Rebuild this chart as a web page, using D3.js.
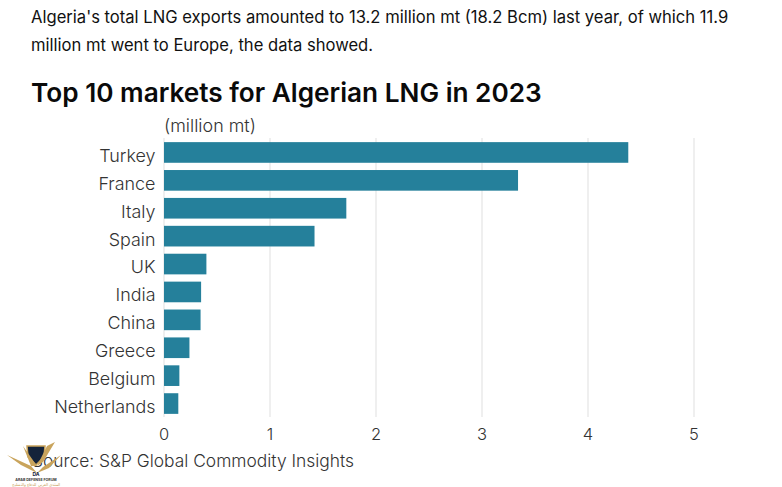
<!DOCTYPE html>
<html>
<head>
<meta charset="utf-8">
<script src="https://cdnjs.cloudflare.com/ajax/libs/d3/7.8.5/d3.min.js"></script>
<style>
  html, body { margin: 0; padding: 0; background: #fff; }
  svg { display: block; font-family: Inter, "Open Sans", sans-serif; }
</style>
</head>
<body>
<div id="chart"></div>
<script>
var markets = ['Turkey', 'France', 'Italy', 'Spain', 'UK', 'India', 'China', 'Greece', 'Belgium', 'Netherlands'];
var volumes = [4.38, 3.34, 1.72, 1.42, 0.40, 0.35, 0.345, 0.24, 0.145, 0.135];
var xTicks = [0, 1, 2, 3, 4, 5];
var introLines = [
  "Algeria's total LNG exports amounted to 13.2 million mt (18.2 Bcm) last year, of which 11.9",
  'million mt went to Europe, the data showed.'
];

var svg = d3.select('#chart').append('svg').attr('width', 782).attr('height', 487);

var x = d3.scaleLinear().domain([0, 5]).range([164, 694]);
var y = d3.scaleBand().domain(markets).range([138.5, 417.5]).paddingInner(0.26).paddingOuter(0.13);

// intro text
svg.selectAll('.intro').data(introLines).enter().append('text')
  .attr('class', 'intro')
  .attr('x', 31).attr('y', function (d, i) { return 23 + i * 28; })
  .attr('font-size', 16.6).attr('fill', '#111')
  .text(function (d) { return d; });

svg.append('text').attr('x', 31).attr('y', 102)
  .attr('font-size', 26.2).attr('font-weight', 600).attr('fill', '#0a0a0a')
  .text('Top 10 markets for Algerian LNG in 2023');

svg.append('text').attr('x', 164).attr('y', 131.5)
  .attr('font-size', 17.9).attr('font-weight', 300).attr('fill', '#333')
  .text('(million mt)');

// gridlines
svg.selectAll('.grid').data(xTicks).enter().append('line')
  .attr('class', 'grid')
  .attr('x1', x).attr('x2', x)
  .attr('y1', 138).attr('y2', 417)
  .attr('stroke', '#e6e6e6').attr('stroke-width', 1.3);

// bars
svg.selectAll('.bar').data(volumes).enter().append('rect')
  .attr('class', 'bar')
  .attr('x', x(0))
  .attr('y', function (d, i) { return y(markets[i]); })
  .attr('width', function (d) { return x(d) - x(0); })
  .attr('height', y.bandwidth())
  .attr('fill', '#25809b');

// labels
svg.selectAll('.market').data(markets).enter().append('text')
  .attr('class', 'market')
  .attr('x', 155.5)
  .attr('y', function (d) { return y(d) + y.bandwidth() / 2 + 3; })
  .attr('dy', '0.36em')
  .attr('text-anchor', 'end')
  .attr('font-size', 17.9).attr('font-weight', 300).attr('fill', '#333')
  .text(function (d) { return d; });

svg.selectAll('.tick-label').data(xTicks).enter().append('text')
  .attr('class', 'tick-label')
  .attr('x', x).attr('y', 440)
  .attr('text-anchor', 'middle')
  .attr('font-size', 16.5).attr('font-weight', 300).attr('fill', '#333')
  .text(function (d) { return d; });

svg.append('text').attr('x', 32).attr('y', 467)
  .attr('font-size', 17.4).attr('font-weight', 300).attr('fill', '#333')
  .text('Source: S&P Global Commodity Insights');

// forum watermark, rough
var logo = svg.append('g').attr('transform', 'translate(7,442)');
logo.append('path').attr('d', 'M20 4 L38 4 L37 15 L29 23 L21 15 Z').attr('fill', '#14233a').attr('stroke', '#c9a45c').attr('stroke-width', 1.5);
logo.append('path').attr('d', 'M40 4 L48 0 L36 20 L30 24 Z M16 4 L30 24 L24 24 Z').attr('fill', '#c9a45c');
logo.append('path').attr('d', 'M0 13 L24 24 L30 31 L14 23 Z M54 13 L36 25 L30 31 L42 26 Z').attr('fill', '#c9a45c');
logo.append('text').attr('x', 29).attr('y', 34).attr('text-anchor', 'middle')
  .attr('font-size', 5).attr('font-weight', 700).attr('fill', '#14233a').text('DA');
logo.append('text').attr('x', 29).attr('y', 38.5).attr('text-anchor', 'middle')
  .attr('font-size', 3.6).attr('font-weight', 700).attr('fill', '#333').text('ARAB DEFENSE FORUM');
logo.append('text').attr('x', 29).attr('y', 44).attr('text-anchor', 'middle')
  .attr('font-size', 4.4).attr('fill', '#c9a45c').text('المنتدى العربي للدفاع والتسليح');
</script>
</body>
</html>
